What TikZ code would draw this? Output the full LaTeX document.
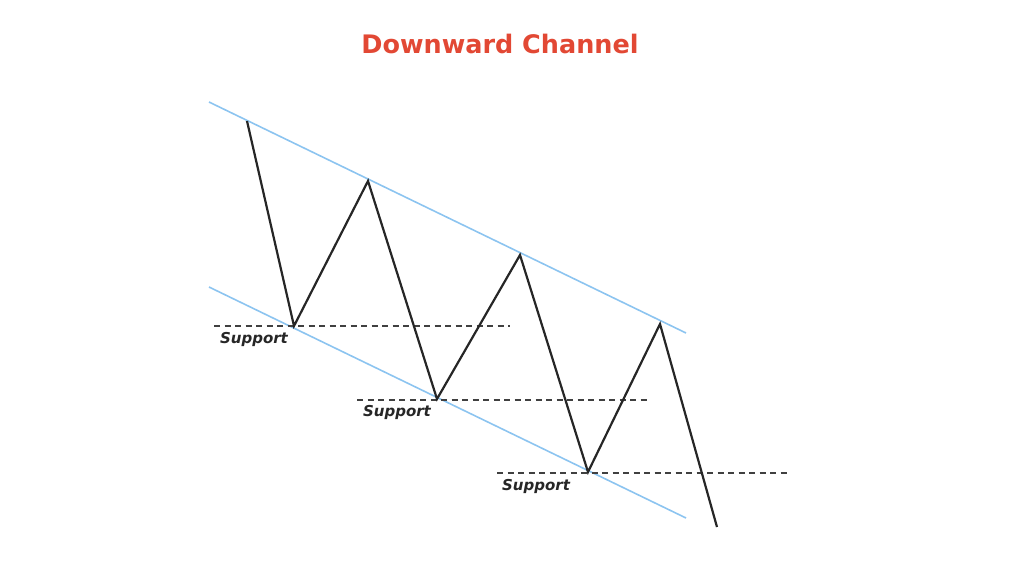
\documentclass[tikz,border=0pt]{standalone}
\usepackage{fontspec}
\setmainfont{DejaVu Sans}
\definecolor{titlered}{RGB}{226,72,52}
\definecolor{chanblue}{RGB}{140,196,240}
\tikzset{
  price/.style = {line width=2.2pt, draw=black!85, line join=miter},
  chan/.style = {line width=1.6pt, draw=chanblue},
  suppline/.style = {line width=1.4pt, draw=black!75, dash pattern=on 6pt off 4.5pt},
  supplabel/.style = {font=\fontsize{15}{17}\selectfont\bfseries\itshape, text=black!85, inner sep=0pt}
}
\begin{document}
\begin{tikzpicture}[x=1pt, y=-1pt]
    \useasboundingbox (0,0) rectangle (1010,586);
    \node [font=\fontsize{25.5}{30}\selectfont\bfseries, text=titlered] (title) at (500,44) {Downward Channel};
    % channel borders
    \coordinate (upA) at (209,102); \coordinate (upB) at (686,333);
    \coordinate (loA) at (209,287); \coordinate (loB) at (686,518);
    \draw [chan] (upA) -- (upB);
    \draw [chan] (loA) -- (loB);
    % support levels
    \coordinate (s1a) at (214,326); \coordinate (s1b) at (510,326);
    \coordinate (s2a) at (357,400); \coordinate (s2b) at (650,400);
    \coordinate (s3a) at (497,473); \coordinate (s3b) at (790,473);
    \draw [suppline] (s1a) -- (s1b);
    \draw [suppline] (s2a) -- (s2b);
    \draw [suppline] (s3a) -- (s3b);
    \node [supplabel] (sup1) at (254,339) {Support};
    \node [supplabel] (sup2) at (397,412) {Support};
    \node [supplabel] (sup3) at (536,486) {Support};
    % price path
    \coordinate (p1) at (247,121); \coordinate (p2) at (294,326);
    \coordinate (p3) at (368,181); \coordinate (p4) at (437,399);
    \coordinate (p5) at (520,255); \coordinate (p6) at (588,472);
    \coordinate (p7) at (660,324); \coordinate (p8) at (717,527);
    \draw [price] (p1) -- (p2) -- (p3) -- (p4) -- (p5) -- (p6) -- (p7) -- (p8);
\end{tikzpicture}
\end{document}
